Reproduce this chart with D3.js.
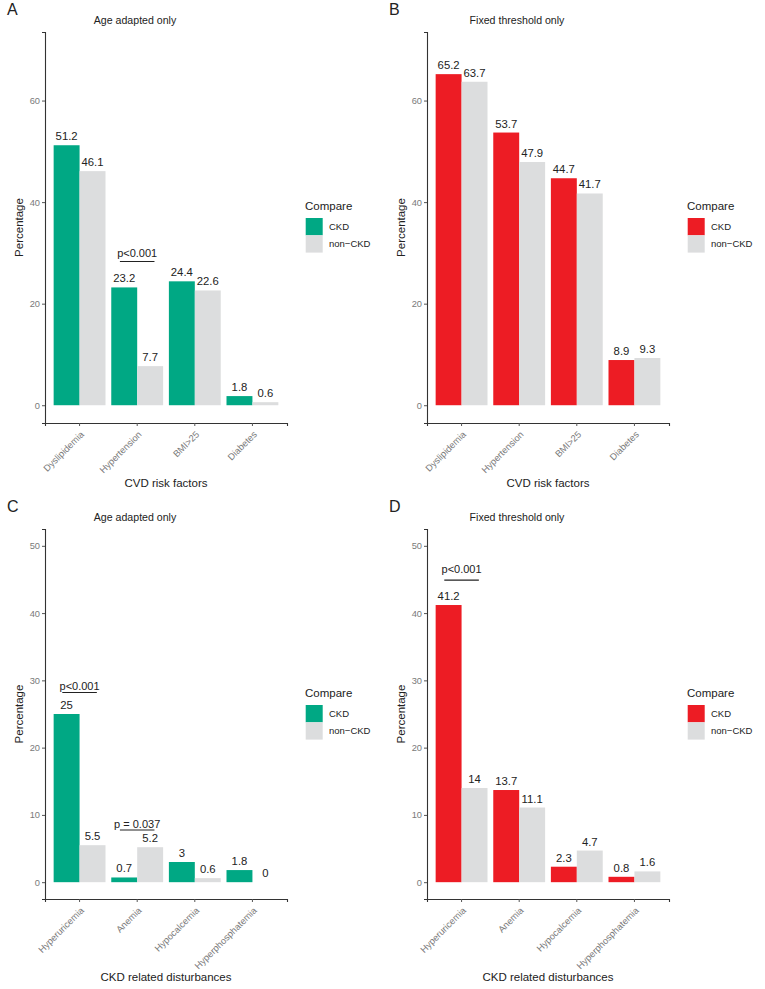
<!DOCTYPE html>
<html>
<head>
<meta charset="utf-8">
<script src="https://cdn.jsdelivr.net/npm/d3@7"></script>
<style>
  body { margin: 0; background: #fff; }
  svg { font-family: "Liberation Sans", Arial, sans-serif; }
</style>
</head>
<body>
<div id="chart"></div>
<script>
// categories
var cvdFactors = ["Dyslipidemia", "Hypertension", "BMI>25", "Diabetes"];
var ckdDisturbances = ["Hyperuricemia", "Anemia", "Hypocalcemia", "Hyperphosphatemia"];
var groups = ["CKD", "non\u2212CKD"];

// percentages
var cvdAgeCKD = [51.2, 23.2, 24.4, 1.8];
var cvdAgeNon = [46.1, 7.7, 22.6, 0.6];
var cvdFixedCKD = [65.2, 53.7, 44.7, 8.9];
var cvdFixedNon = [63.7, 47.9, 41.7, 9.3];
var ckdAgeCKD = [25, 0.7, 3, 1.8];
var ckdAgeNon = [5.5, 5.2, 0.6, 0];
var ckdFixedCKD = [41.2, 13.7, 2.3, 0.8];
var ckdFixedNon = [14, 11.1, 4.7, 1.6];

// y ticks
var cvdTicks = [0, 20, 40, 60];
var ckdTicks = [0, 10, 20, 30, 40, 50];

// significance brackets: category, line value, text value, label
var notesA = [{cat: "Hypertension", line: 28.3, text: 29.1, label: "p<0.001"}];
var notesB = [];
var notesC = [{cat: "Hyperuricemia", line: 28.2, text: 28.6, label: "p<0.001"},
              {cat: "Anemia", line: 7.75, text: 8.0, label: "p = 0.037"}];
var notesD = [{cat: "Hyperuricemia", line: 44.9, text: 45.9, label: "p<0.001"}];

var green = "#00a884", red = "#ed1c24", grey = "#dcddde";

var svg = d3.select("#chart").append("svg")
    .attr("width", 765)
    .attr("height", 989);

// #####################################################
// one panel
//
function plot_panel (p) {
  var margin = {left: 45, right: 287, top: 32};
  var g = svg.append("g")
      .attr("transform", "translate(" + p.x + "," + p.y + ")");

  var data = p.cats.map(function (c, i) {
    return {cat: c, values: [p.ckd[i], p.non[i]]};
  });

  var x = d3.scaleBand().domain(p.cats)
      .range([margin.left, margin.right])
      .paddingInner(0.1).paddingOuter(0.15);
  var xg = d3.scaleBand().domain(groups).range([0, x.bandwidth()]);
  var pad = p.ymax * 0.05;
  var y = d3.scaleLinear().domain([-pad, p.ymax + pad]).range([p.bottom, margin.top]);
  var colors = [p.color, grey];

  // bars
  var grp = g.selectAll(".grp").data(data).enter().append("g")
      .attr("transform", function (d) { return "translate(" + x(d.cat) + ",0)"; });
  grp.selectAll("rect").data(function (d) { return d.values; }).enter().append("rect")
      .attr("x", function (d, i) { return xg(groups[i]); })
      .attr("width", xg.bandwidth())
      .attr("y", function (d) { return y(d); })
      .attr("height", function (d) { return y(0) - y(d); })
      .attr("fill", function (d, i) { return colors[i]; });
  grp.selectAll("text").data(function (d) { return d.values; }).enter().append("text")
      .attr("x", function (d, i) { return xg(groups[i]) + xg.bandwidth() / 2; })
      .attr("y", function (d) { return y(d) - 5; })
      .attr("text-anchor", "middle")
      .style("font-size", "11.3px")
      .style("fill", "#222")
      .text(function (d) { return d; });

  // axes
  var ya = g.append("g")
      .attr("transform", "translate(" + margin.left + ",0)")
      .call(d3.axisLeft(y).tickValues(p.ticks).tickSize(3).tickPadding(2));
  var xa = g.append("g")
      .attr("transform", "translate(0," + p.bottom + ")")
      .call(d3.axisBottom(x).tickSize(3).tickPadding(2));
  [ya, xa].forEach(function (a) {
    a.select(".domain").attr("stroke", "#333").attr("stroke-width", 1.1);
    a.selectAll(".tick line").attr("stroke", "#555");
    a.selectAll(".tick text").style("font-size", "9.3px").attr("fill", "#7a7a7a")
      .style("font-family", "Liberation Sans, Arial, sans-serif");
  });
  xa.selectAll(".tick text")
      .attr("text-anchor", "end")
      .attr("y", 0).attr("dy", 0)
      .attr("transform", "translate(5,12) rotate(-45)");

  // p-value brackets
  p.notes.forEach(function (n) {
    var cx = x(n.cat) + x.bandwidth() / 2;
    var half = x.step() * 0.3;
    g.append("line")
        .attr("x1", cx - half).attr("x2", cx + half)
        .attr("y1", y(n.line)).attr("y2", y(n.line))
        .attr("stroke", "#222").attr("stroke-width", 1.1);
    g.append("text")
        .attr("x", cx).attr("y", y(n.text))
        .attr("text-anchor", "middle")
        .style("font-size", "11px").style("fill", "#222")
        .text(n.label);
  });

  // titles
  g.append("text").attr("x", 7).attr("y", p.letterY)
      .style("font-size", "16px").style("fill", "#222").text(p.letter);
  g.append("text").attr("x", 135).attr("y", p.titleY)
      .attr("text-anchor", "middle")
      .style("font-size", "10.6px").style("fill", "#222").text(p.title);
  g.append("text").attr("x", (margin.left + margin.right) / 2).attr("y", p.xlabY)
      .attr("text-anchor", "middle")
      .style("font-size", "11.5px").style("fill", "#222").text(p.xlab);
  g.append("text")
      .attr("transform", "translate(23," + (margin.top + p.bottom) / 2 + ") rotate(-90)")
      .attr("text-anchor", "middle")
      .style("font-size", "11.5px").style("fill", "#222").text("Percentage");

  // legend
  var lg = g.append("g").attr("transform", "translate(305," + p.legendTop + ")");
  lg.append("text").attr("x", 0).attr("y", -8.5)
      .style("font-size", "11.5px").style("fill", "#222").text("Compare");
  groups.forEach(function (k, i) {
    lg.append("rect").attr("x", 0.7).attr("y", i * 17.3)
        .attr("width", 17).attr("height", 17.3).attr("fill", colors[i]);
    lg.append("text").attr("x", 24).attr("y", i * 17.3 + 12)
        .style("font-size", "9.5px").style("fill", "#222").text(k);
  });
}

var panels = [
  {letter: "A", x: 0, y: 0, title: "Age adapted only", cats: cvdFactors, ckd: cvdAgeCKD, non: cvdAgeNon,
   color: green, ymax: 70, ticks: cvdTicks, bottom: 423, xlab: "CVD risk factors", notes: notesA},
  {letter: "B", x: 382, y: 0, title: "Fixed threshold only", cats: cvdFactors, ckd: cvdFixedCKD, non: cvdFixedNon,
   color: red, ymax: 70, ticks: cvdTicks, bottom: 423, xlab: "CVD risk factors", notes: notesB},
  {letter: "C", x: 0, y: 497, title: "Age adapted only", cats: ckdDisturbances, ckd: ckdAgeCKD, non: ckdAgeNon,
   color: green, ymax: 50, ticks: ckdTicks, bottom: 402, xlab: "CKD related disturbances", notes: notesC},
  {letter: "D", x: 382, y: 497, title: "Fixed threshold only", cats: ckdDisturbances, ckd: ckdFixedCKD, non: ckdFixedNon,
   color: red, ymax: 50, ticks: ckdTicks, bottom: 402, xlab: "CKD related disturbances", notes: notesD}
];
panels.forEach(function (p) {
  var top = p.y === 0;
  p.letterY = 15;
  p.titleY = 24;
  p.xlabY = top ? 487 : 484;
  p.legendTop = top ? 218 : 208;
  plot_panel(p);
});
</script>
</body>
</html>
